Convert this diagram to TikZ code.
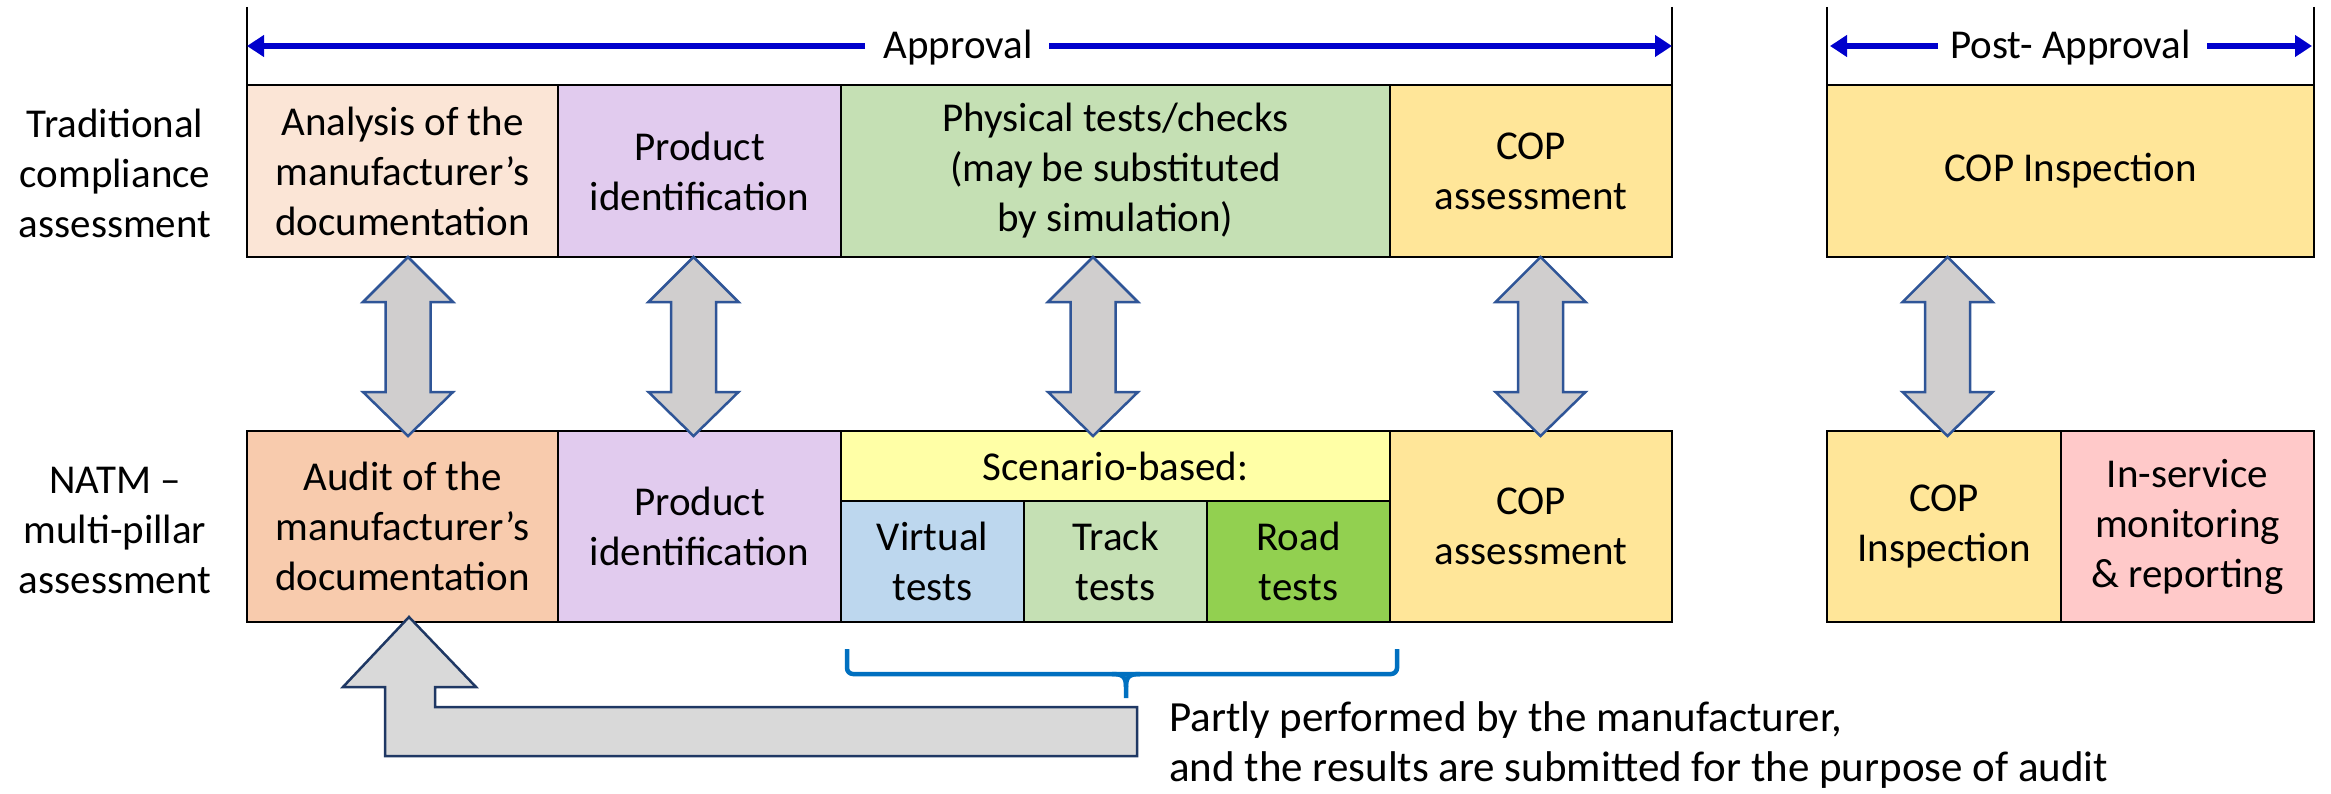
\documentclass[tikz,border=0pt]{standalone}
\usepackage{fontspec}
\setmainfont{Carlito}
\usetikzlibrary{arrows.meta}

\definecolor{peach}{HTML}{FBE5D6}
\definecolor{apricot}{HTML}{F8CBAD}
\definecolor{lilac}{HTML}{E1CBEE}
\definecolor{sage}{HTML}{C5E0B4}
\definecolor{gold}{HTML}{FFE699}
\definecolor{lemon}{HTML}{FFFFA6}
\definecolor{sky}{HTML}{BDD7EE}
\definecolor{lime}{HTML}{92D050}
\definecolor{rose}{HTML}{FFC9C9}
\definecolor{phaseblue}{RGB}{0,0,204}
\definecolor{arrowfill}{HTML}{D0CECE}
\definecolor{arrowedge}{HTML}{2F5597}
\definecolor{bendfill}{HTML}{D9D9D9}
\definecolor{bendedge}{HTML}{1F3864}
\definecolor{bracecol}{HTML}{0070C0}

% vertical two-way block arrow: #1 = x, #2 = top tip y, #3 = bottom tip y
\newcommand\twoway[3]{%
  \draw[twowayarrow] (#1,#2) -- (#1+45,#2+45) -- (#1+22.5,#2+45)
    -- (#1+22.5,#3-44) -- (#1+45,#3-44) -- (#1,#3) -- (#1-45,#3-44)
    -- (#1-22.5,#3-44) -- (#1-22.5,#2+45) -- (#1-45,#2+45) -- cycle;}

\begin{document}
\begin{tikzpicture}[x=1pt,y=-1pt,
  font=\fontsize{41}{50}\selectfont,
  cell/.style={draw=black, line width=2.5pt, align=center, inner sep=0pt},
  rowlabel/.style={align=center, inner sep=0pt},
  phaseline/.style={draw=phaseblue, line width=6pt,
    -{Triangle[length=17pt,width=21pt]}},
  tick/.style={draw=black, line width=2pt},
  twowayarrow/.style={fill=arrowfill, draw=arrowedge, line width=2.5pt, line join=miter},
  bentarrow/.style={fill=bendfill, draw=bendedge, line width=2.5pt, line join=miter},
  bracket/.style={draw=bracecol, line width=4.5pt}]

\useasboundingbox (0,0) rectangle (2331,794);

% ---- phase markers ----
\coordinate (apTopL) at (247,7);   \coordinate (apBotL) at (247,85);
\coordinate (apTopR) at (1672,7);  \coordinate (apBotR) at (1672,85);
\coordinate (ppTopL) at (1827,7);  \coordinate (ppBotL) at (1827,85);
\coordinate (ppTopR) at (2314,7);  \coordinate (ppBotR) at (2314,85);
\draw[tick] (apTopL) -- (apBotL);
\draw[tick] (apTopR) -- (apBotR);
\draw[tick] (ppTopL) -- (ppBotL);
\draw[tick] (ppTopR) -- (ppBotR);

\node[anchor=base, inner sep=0pt] (approval) at (958,59) {Approval};
\coordinate (apL) at (247,46);  \coordinate (apLm) at (865,46);
\coordinate (apR) at (1672,46); \coordinate (apRm) at (1049,46);
\draw[phaseline] (apLm) -- (apL);
\draw[phaseline] (apRm) -- (apR);

\node[anchor=base, inner sep=0pt] (postapproval) at (2070.5,59) {Post- Approval};
\coordinate (ppL) at (1830,46);  \coordinate (ppLm) at (1938,46);
\coordinate (ppR) at (2312,46);  \coordinate (ppRm) at (2207,46);
\draw[phaseline] (ppLm) -- (ppL);
\draw[phaseline] (ppRm) -- (ppR);

% ---- row labels ----
\node[rowlabel] (lblTrad) at (115,173) {Traditional\\compliance\\assessment};
\node[rowlabel] (lblNatm) at (115,530) {NATM –\\multi-pillar\\assessment};

% ---- traditional row ----
\node[cell, fill=peach, minimum width=311, minimum height=172] (t1) at (402.5,171)
  {Analysis of the\\manufacturer’s\\documentation};
\node[cell, fill=lilac, minimum width=283, minimum height=172] (t2) at (699.5,171)
  {Product\\identification};
\node[cell, fill=sage, minimum width=549, minimum height=172] (t3) at (1115.5,171)
  {Physical tests/checks\\(may be substituted\\by simulation)};
\node[cell, fill=gold, minimum width=282, minimum height=172] (t4) at (1531,171)
  {COP\\assessment};
\node[cell, fill=gold, minimum width=487, minimum height=172] (tp) at (2070.5,171)
  {COP Inspection};

% ---- NATM row ----
\node[cell, fill=apricot, minimum width=311, minimum height=191] (b1) at (402.5,526.5)
  {Audit of the\\manufacturer’s\\documentation};
\node[cell, fill=lilac, minimum width=283, minimum height=191] (b2) at (699.5,526.5)
  {Product\\identification};
\node[cell, fill=lemon, minimum width=549, minimum height=70] (b3) at (1115.5,466)
  {Scenario-based:};
\node[cell, fill=sky, minimum width=183, minimum height=121] (b3a) at (932.5,561.5)
  {Virtual\\tests};
\node[cell, fill=sage, minimum width=183, minimum height=121] (b3b) at (1115.5,561.5)
  {Track\\tests};
\node[cell, fill=lime, minimum width=183, minimum height=121] (b3c) at (1298.5,561.5)
  {Road\\tests};
\node[cell, fill=gold, minimum width=282, minimum height=191] (b4) at (1531,526.5)
  {COP\\assessment};
\node[cell, fill=gold, minimum width=234, minimum height=191] (bp1) at (1944,526.5)
  {COP\\Inspection};
\node[cell, fill=rose, minimum width=253, minimum height=191] (bp2) at (2187.5,526.5)
  {In-service\\monitoring\\\& reporting};

% ---- correspondences between the two rows ----
\twoway{408}{257}{436}
\twoway{693.5}{257}{436}
\twoway{1093}{257}{436}
\twoway{1540.5}{257}{436}
\twoway{1947.5}{257}{436}

% ---- bracket under the scenario-based tests ----
\draw[bracket, rounded corners=6pt] (847,649) -- (847,674) -- (1397,674) -- (1397,649);
\draw[bracket] (1112,674) .. controls (1123,674) and (1126,677) .. (1126,687) -- (1126,698);
\draw[bracket] (1140,674) .. controls (1129,674) and (1126,677) .. (1126,687);

% ---- feedback arrow into the audit ----
\draw[bentarrow] (409,617) -- (476,687) -- (435,687) -- (435,707) -- (1137,707)
  -- (1137,756) -- (385,756) -- (385,687) -- (343,687) -- cycle;

\node[anchor=west, align=left, inner sep=0pt, font=\fontsize{43}{50}\selectfont] (note) at (1169,745)
  {Partly performed by the manufacturer,\\and the results are submitted for the purpose of audit};

\end{tikzpicture}
\end{document}
